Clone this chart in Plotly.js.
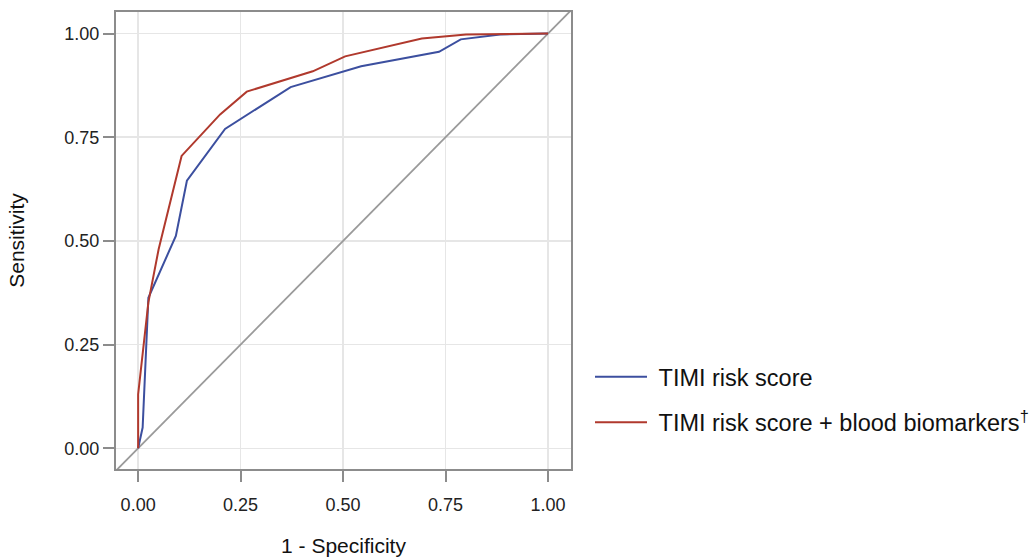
<!DOCTYPE html>
<html>
<head>
<meta charset="utf-8">
<script src="https://cdn.plot.ly/plotly-3.0.1.min.js"></script>
<style>html,body{margin:0;padding:0;background:#fff;}#chart{width:1030px;height:557px;}</style>
</head>
<body>
<div id="chart"></div>
<script>
// Data
const timiFpr  = [0, 0.011, 0.025, 0.092, 0.119, 0.212, 0.372, 0.544, 0.734, 0.787, 0.883, 1.0];
const timiTpr  = [0, 0.050, 0.363, 0.512, 0.645, 0.770, 0.871, 0.921, 0.956, 0.986, 0.998, 1.0];
const bioFpr   = [0, 0, 0.025, 0.050, 0.106, 0.200, 0.265, 0.426, 0.505, 0.630, 0.692, 0.800, 1.0];
const bioTpr   = [0, 0.130, 0.352, 0.480, 0.705, 0.805, 0.860, 0.909, 0.945, 0.974, 0.988, 0.998, 1.0];
const refLine  = [-0.1, 1.1];
const tickVals = [0, 0.25, 0.5, 0.75, 1.0];
const tickText = ["0.00", "0.25", "0.50", "0.75", "1.00"];
const seriesNames = ["TIMI risk score", "TIMI risk score + blood biomarkers<sup>†</sup>"];

const FONT = "Liberation Sans, Arial, Helvetica, sans-serif";
const frameColor = "#8c8c8c";
const NB = "\u00a0";

const traces = [
  {x: refLine, y: refLine, mode: "lines", line: {color: "#9a9a9a", width: 1.8}, showlegend: false, hoverinfo: "skip"},
  {x: timiFpr, y: timiTpr, mode: "lines", name: NB + seriesNames[0], legendgroup: "a",
   line: {color: "#3c4f9f", width: 2}},
  {x: bioFpr, y: bioTpr, mode: "lines", name: NB + seriesNames[1], legendgroup: "b",
   line: {color: "#b0392d", width: 2}}
];

const axisCommon = {
  tickvals: tickVals, ticktext: tickText,
  showgrid: true, gridcolor: "#e6e6e6", gridwidth: 1.5,
  zeroline: false, automargin: false,
  showline: true, mirror: true, linecolor: frameColor, linewidth: 2,
  ticks: "outside", ticklen: 11, tickwidth: 2, tickcolor: frameColor,
  tickfont: {family: FONT, size: 18, color: "#222"},
  fixedrange: true
};

const layout = {
  width: 1030, height: 557,
  margin: {l: 116, r: 459, t: 12, b: 88, autoexpand: false},
  paper_bgcolor: "#fff", plot_bgcolor: "#fff",
  font: {family: FONT, color: "#111"},
  xaxis: Object.assign({}, axisCommon, {
    range: [-0.054, 1.056],
    ticklabelstandoff: 7,
    title: {text: "1 - Specificity", font: {family: FONT, size: 21, color: "#111"}, standoff: 27}
  }),
  yaxis: Object.assign({}, axisCommon, {
    range: [-0.05, 1.052],
    title: {text: "Sensitivity", font: {family: FONT, size: 21, color: "#111"}, standoff: 34}
  }),
  showlegend: true,
  legend: {
    x: (590 - 116) / 455, xanchor: "left", y: 0.151, yanchor: "middle",
    font: {family: FONT, size: 23.5, color: "#111"},
    itemwidth: 52, tracegroupgap: 12, traceorder: "grouped",
    bgcolor: "rgba(0,0,0,0)"
  }
};

Plotly.newPlot("chart", traces, layout, {displayModeBar: false, staticPlot: true});
</script>
</body>
</html>
